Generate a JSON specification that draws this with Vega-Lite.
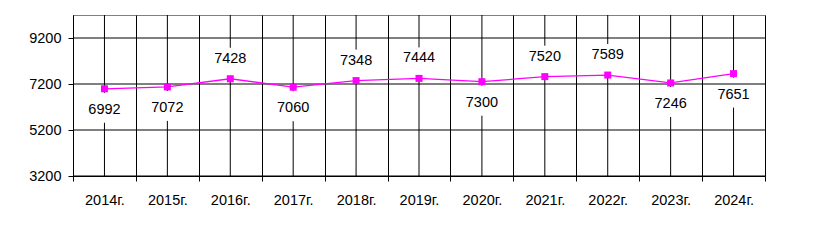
{
  "$schema": "https://vega.github.io/schema/vega-lite/v6.json",
  "autosize": "none",
  "width": 692,
  "height": 161,
  "padding": {"left": 73, "top": 15, "right": 49, "bottom": 64},
  "background": "white",
  "config": {
    "view": {"stroke": "#808080", "strokeWidth": 1},
    "font": "Liberation Sans",
    "axis": {"labelFont": "Liberation Sans", "labelColor": "black", "labelFontSize": 14.5, "domainColor": "black", "tickColor": "black", "gridColor": "black", "gridOpacity": 1, "tickSize": 5, "title": null}
  },
  "data": {
    "values": [
      {"year": "2014г.", "value": 6992},
      {"year": "2015г.", "value": 7072},
      {"year": "2016г.", "value": 7428},
      {"year": "2017г.", "value": 7060},
      {"year": "2018г.", "value": 7348},
      {"year": "2019г.", "value": 7444},
      {"year": "2020г.", "value": 7300},
      {"year": "2021г.", "value": 7520},
      {"year": "2022г.", "value": 7589},
      {"year": "2023г.", "value": 7246},
      {"year": "2024г.", "value": 7651}
    ]
  },
  "encoding": {
    "x": {
      "field": "year", "type": "nominal", "sort": null, "bandPosition": 0.5,
      "scale": {"type": "band", "paddingInner": 0, "paddingOuter": 0},
      "axis": {"tickBand": "extent", "grid": true, "labelAngle": 0, "labelPadding": 12, "domainColor": "black", "labelBaseline": "top"}
    },
    "y": {
      "field": "value", "type": "quantitative",
      "scale": {"domain": [3200, 10200], "nice": false, "zero": false},
      "axis": {"values": [3200, 5200, 7200, 9200], "grid": false, "labelPadding": 7, "format": "d"}
    }
  },
  "layer": [
    {"mark": {"type": "rule", "color": "black", "strokeWidth": 1}, "encoding": {"y": null}},
    {
      "transform": [{"filter": {"field": "year", "oneOf": ["2016г.", "2018г.", "2019г.", "2021г.", "2022г."]}}],
      "mark": {"type": "point", "shape": "M-0.12,-1L0.12,-1L0.12,1L-0.12,1Z", "filled": true, "color": "white", "opacity": 1, "size": 784, "yOffset": -17}
    },
    {
      "transform": [{"filter": {"field": "year", "oneOf": ["2014г.", "2015г.", "2017г.", "2020г.", "2023г.", "2024г."]}}],
      "mark": {"type": "point", "shape": "M-0.12,-1L0.12,-1L0.12,1L-0.12,1Z", "filled": true, "color": "white", "opacity": 1, "size": 900, "yOffset": 19}
    },
    {
      "data": {"values": [{"g": 3200}, {"g": 5200}, {"g": 7200}, {"g": 9200}]},
      "mark": {"type": "rule", "color": "black", "strokeWidth": 1},
      "encoding": {"x": null, "y": {"field": "g", "type": "quantitative"}}
    },
    {"mark": {"type": "line", "color": "#FF00FF", "strokeWidth": 1.3}},
    {"mark": {"type": "square", "color": "#FF00FF", "filled": true, "opacity": 1, "size": 49}},
    {
      "transform": [{"filter": {"field": "year", "oneOf": ["2016г.", "2018г.", "2019г.", "2021г.", "2022г."]}}],
      "mark": {"type": "text", "fontSize": 14.5, "color": "black", "baseline": "middle", "dy": -20},
      "encoding": {"text": {"field": "value", "type": "quantitative", "format": "d"}}
    },
    {
      "transform": [{"filter": {"field": "year", "oneOf": ["2014г.", "2015г.", "2017г.", "2020г.", "2023г.", "2024г."]}}],
      "mark": {"type": "text", "fontSize": 14.5, "color": "black", "baseline": "middle", "dy": 21},
      "encoding": {"text": {"field": "value", "type": "quantitative", "format": "d"}}
    }
  ]
}
